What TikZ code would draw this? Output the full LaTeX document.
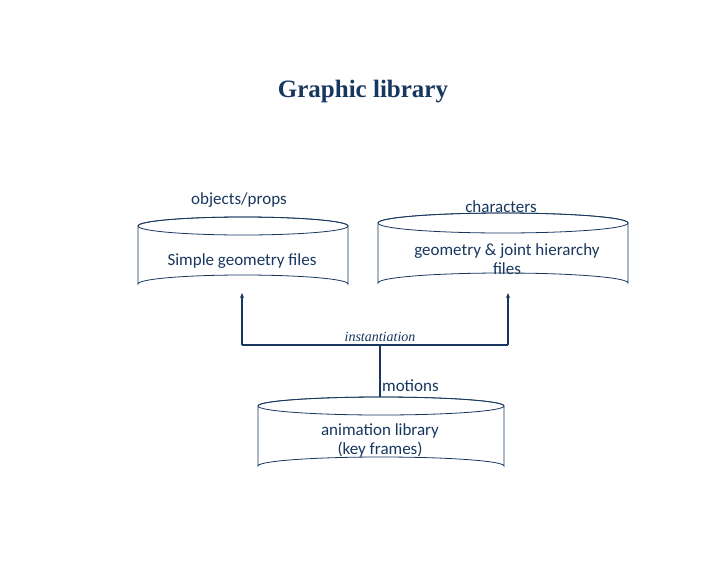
\documentclass[tikz,border=0pt]{standalone}
\usepackage{fontspec}
\setmainfont{Liberation Serif}
\newfontfamily\labfont{Carlito}
\usetikzlibrary{arrows.meta}
\definecolor{navy}{HTML}{17375E}
\newcommand{\mycyl}[6]{% name, cx, topy, boty, rx, ry
  \draw[navy,line width=0.8pt,fill=white] (#2-#5,#3) arc[start angle=180,end angle=360,x radius=#5,y radius=#6]
     -- (#2+#5,#4) arc[start angle=0,end angle=-180,x radius=#5,y radius=#6] -- cycle;
  \draw[navy,line width=0.8pt] (#2,#3) ellipse[x radius=#5,y radius=#6];
  \path (#2-#5,#4+#6) coordinate (#1-sw) (#2+#5,#3-#6) coordinate (#1-ne)
        (#2,#4+#6) coordinate (#1-bot) (#2,#3-#6) coordinate (#1-top);
}
\tikzset{lab/.style={text=navy,font=\labfont\fontsize{17}{19}\selectfont,align=center,inner sep=0pt},
  conn/.style={navy,line width=1.2pt}}
\begin{document}
\begin{tikzpicture}[x=1pt,y=-1pt]
\useasboundingbox (0,0) rectangle (720,576);
\node[text=navy,font=\bfseries\fontsize{25}{30}\selectfont] (title) at (363,92) {Graphic library};
\mycyl{objs}{243}{226}{284}{105}{9}
\mycyl{chars}{503}{223}{283}{125}{10}
\mycyl{anim}{381}{406}{466}{123}{9}
\node[lab] (lobj) at (239,200) {objects/props};
\node[lab] (lchar) at (501,207) {characters};
\node[lab] (tobj) at (242,261) {Simple geometry files};
\node[lab] (tchar) at (507,259) {geometry \& joint hierarchy\\files};
\node[lab] (tanim) at (380,440) {animation library\\(key frames)};
\coordinate (jl) at (242,345);
\coordinate (jr) at (508,345);
\coordinate (jm) at (380,345);
\draw[conn,-{Stealth[length=5pt,width=4pt]}] (jl) -- (objs-bot -| jl);
\draw[conn,-{Stealth[length=5pt,width=4pt]}] (jr) -- (chars-bot -| jr);
\draw[conn] (jl) -- (jr);
\draw[conn] (jm) -- (anim-top -| jm);
\node[text=navy,font=\itshape\fontsize{14}{16}\selectfont,anchor=south,inner sep=1pt] (inst) at (380,343) {instantiation};
\node[lab,anchor=west] (mot) at (382,386) {motions};
\end{tikzpicture}
\end{document}
